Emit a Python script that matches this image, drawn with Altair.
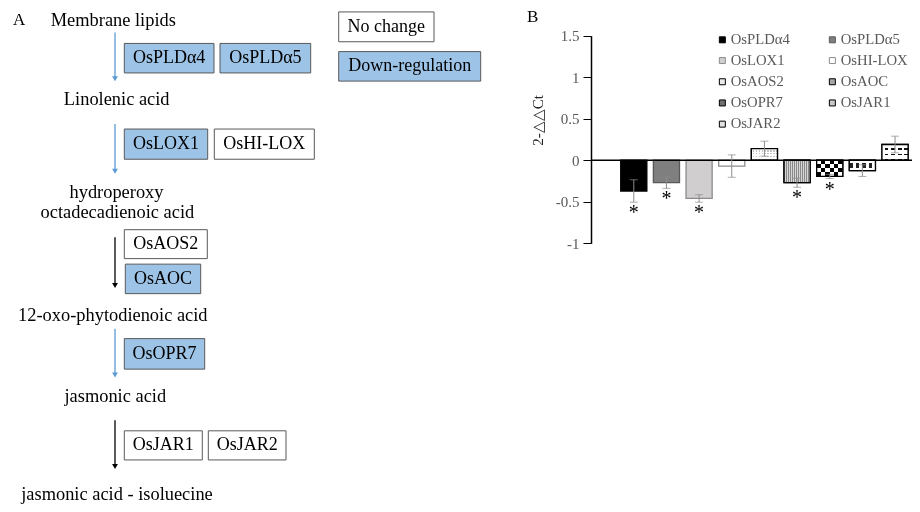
import altair as alt
import pandas as pd

# ---------------- Panel B data ----------------
genes = ["OsPLDα4", "OsPLDα5", "OsLOX1", "OsHI-LOX", "OsAOS2",
         "OsAOC", "OsOPR7", "OsJAR1", "OsJAR2"]
rel_expr = [-0.37, -0.27, -0.46, -0.07, 0.14, -0.27, -0.195, -0.125, 0.19]
rel_err = [0.135, 0.068, 0.045, 0.135, 0.09, 0.055, 0.025, 0.07, 0.10]
significant = [True, True, True, False, False, True, True, False, False]
y_ticks = [-1, -0.5, 0, 0.5, 1, 1.5]

# ---------------- Panel A data ----------------
compounds = ["Membrane lipids", "Linolenic acid", "hydroperoxy",
             "octadecadienoic acid", "12-oxo-phytodienoic acid",
             "jasmonic acid", "jasmonic acid - isoluecine"]
enzymes = genes
enzyme_status = ["Down-regulation", "Down-regulation", "Down-regulation",
                 "No change", "No change", "Down-regulation",
                 "Down-regulation", "No change", "No change"]
key_labels = ["No change", "Down-regulation"]
panel_labels = ["A", "B"]

# ---------------- styles ----------------
FONT = "Liberation Serif"
BLUE_FILL = "#9dc3e6"
ARROW_BLUE = "#5b9bd5"
bar_fills = ["#000000", "#7f7f7f", "#d0cece", "#ffffff", "#e8e8e8",
             "#a6a6a6", "#707070", "#c8c8c8", "#e0e0e0"]
bar_strokes = ["#000000", "#595959", "#8c8c8c", "#8c8c8c", "#000000",
               "#000000", "#000000", "#000000", "#000000"]
ERR_COLOR = "#8c8c8c"
CLEAR = "rgba(255,255,255,0)"


def stripes(c1, c2, n, duty=0.5, vertical=True):
    stops = []
    for i in range(n):
        a, b, c = i / n, (i + duty) / n, (i + 1) / n
        stops += [{"offset": a, "color": c1}, {"offset": b, "color": c1},
                  {"offset": b, "color": c2}, {"offset": c, "color": c2}]
    g = {"gradient": "linear", "stops": stops, "x1": 0, "y1": 0}
    if vertical:
        g.update({"x2": 1, "y2": 0})
    else:
        g.update({"x2": 0, "y2": 1})
    return g


def bands(stops_spec, vertical=False):
    stops = []
    for a, b, col in stops_spec:
        stops += [{"offset": a, "color": col}, {"offset": b, "color": col}]
    g = {"gradient": "linear", "stops": stops, "x1": 0, "y1": 0}
    if vertical:
        g.update({"x2": 1, "y2": 0})
    else:
        g.update({"x2": 0, "y2": 1})
    return g


# ---------------- layout (page pixels of the diagram) ----------------
W, H = 904, 496
K = 0.984


def px(x):
    return x - 8


def py(y):
    return (y - 8) * K


compound_pos = [(113.3, 20), (116.7, 100), (116.5, 195), (117.4, 215),
                (112.8, 320), (115.3, 402), (117, 502)]
enzyme_boxes = [(124.3, 214, 44, 74), (220, 310.7, 44, 74),
                (124.3, 207.7, 131, 161.7), (214.3, 314.3, 131, 161.7),
                (124.3, 207.3, 233.3, 262.7), (125.3, 200.7, 268.3, 298.3),
                (124.3, 204.7, 344, 375),
                (124.3, 202.3, 437.7, 467.3), (208.3, 286, 437.7, 467.3)]
key_boxes = [(338.7, 434, 12, 42.3), (338.7, 480.7, 52.3, 82.3)]
arrow_x = 115
arrow_spans = [(33, 83), (126, 177), (241, 293), (334, 384), (427, 477)]
arrow_colors = [ARROW_BLUE, ARROW_BLUE, "#000000", ARROW_BLUE, "#000000"]
panel_label_pos = [(13, 20), (527, 17)]

# ---------------- tables ----------------
df_comp = pd.DataFrame({
    "label": compounds,
    "x": [px(p[0]) for p in compound_pos],
    "y": [py(p[1]) for p in compound_pos],
})
box_labels = list(enzymes) + key_labels
box_status = list(enzyme_status) + key_labels
boxes = enzyme_boxes + key_boxes
df_box = pd.DataFrame({
    "label": box_labels,
    "status": box_status,
    "x0": [px(b[0]) for b in boxes],
    "x1": [px(b[1]) for b in boxes],
    "y0": [py(b[2]) for b in boxes],
    "y1": [py(b[3]) for b in boxes],
})
df_box["xc"] = (df_box["x0"] + df_box["x1"]) / 2
df_box["yc"] = (df_box["y0"] + df_box["y1"]) / 2

df_arrow = pd.DataFrame({
    "x": [px(arrow_x)] * len(arrow_spans),
    "y0": [py(a[0]) for a in arrow_spans],
    "y1": [py(a[1] - 4) for a in arrow_spans],
    "yh": [py(a[1] - 3) for a in arrow_spans],
    "col": arrow_colors,
})
df_panel = pd.DataFrame({
    "label": panel_labels,
    "x": [px(p[0]) for p in panel_label_pos],
    "y": [py(p[1]) for p in panel_label_pos],
})

sx = alt.Scale(domain=[0, W], range=[0, W], nice=False, zero=False)
sy = alt.Scale(domain=[0, H], range=[0, H], nice=False, zero=False)

comp_text = alt.Chart(df_comp).mark_text(
    font=FONT, fontSize=18.4, color="black", align="center", baseline="middle"
).encode(
    x=alt.X("x:Q", scale=sx, axis=None),
    y=alt.Y("y:Q", scale=sy, axis=None),
    text="label:N",
)
panel_text = alt.Chart(df_panel).mark_text(
    font=FONT, fontSize=17, color="black", align="left", baseline="middle"
).encode(
    x=alt.X("x:Q", scale=sx, axis=None),
    y=alt.Y("y:Q", scale=sy, axis=None),
    text="label:N",
)
box_rect = alt.Chart(df_box).mark_rect(stroke="#595959", strokeWidth=1).encode(
    x=alt.X("x0:Q", scale=sx, axis=None),
    x2="x1:Q",
    y=alt.Y("y0:Q", scale=sy, axis=None),
    y2="y1:Q",
    fill=alt.Fill("status:N",
                  scale=alt.Scale(domain=["Down-regulation", "No change"],
                                  range=[BLUE_FILL, "#ffffff"]),
                  legend=None),
)
box_text = alt.Chart(df_box).mark_text(
    font=FONT, fontSize=18, color="black", align="center", baseline="middle"
).encode(
    x=alt.X("xc:Q", scale=sx, axis=None),
    y=alt.Y("yc:Q", scale=sy, axis=None),
    text="label:N",
)
arrow_shaft = alt.Chart(df_arrow).mark_rule(strokeWidth=1.3).encode(
    x=alt.X("x:Q", scale=sx, axis=None),
    y=alt.Y("y0:Q", scale=sy, axis=None),
    y2="y1:Q",
    color=alt.Color("col:N", scale=None),
)
arrow_head = alt.Chart(df_arrow).mark_point(
    shape="triangle-down", filled=True, size=34, opacity=1
).encode(
    x=alt.X("x:Q", scale=sx, axis=None),
    y=alt.Y("yh:Q", scale=sy, axis=None),
    color=alt.Color("col:N", scale=None),
)
diagram = alt.layer(box_rect, box_text, comp_text, panel_text,
                    arrow_shaft, arrow_head)

# ---------------- bar chart ----------------
df_bar = pd.DataFrame({
    "gene": genes,
    "val": rel_expr,
    "err": rel_err,
    "sig": significant,
})

xb = alt.X("gene:N", sort=genes,
           scale=alt.Scale(range=[px(591), px(918)], paddingInner=0.2,
                           paddingOuter=0.607, align=0.75),
           axis=None)
yscale = alt.Scale(domain=[-1, 1.5], range=[243.3 - 8, 35.7 - 8],
                   nice=False, zero=False)
yaxis = alt.Axis(
    orient="left", offset=-px(591), values=y_ticks,
    labelExpr="'' + datum.value", grid=False,
    domainColor="black", domainWidth=1.5, tickColor="black", tickSize=8,
    tickWidth=1, labelColor="#595959", labelFont=FONT, labelFontSize=15,
    labelPadding=4,
    title="2-△△Ct", titleFont=FONT, titleFontSize=15, titleColor="#262626",
    titleFontWeight="normal", titleAngle=270, titleX=537 - 591,
    titleY=120 - 8, titleAlign="center", titleBaseline="middle",
)


def yb(field):
    return alt.Y(field, type="quantitative", scale=yscale, axis=yaxis)


base = alt.Chart(df_bar).transform_calculate(
    lo="datum.val - datum.err", hi="datum.val + datum.err"
)
bars = base.mark_bar(strokeWidth=1.3).encode(
    x=xb,
    y=yb("val"),
    y2=alt.Y2(datum=0),
    fill=alt.Fill("gene:N", sort=genes,
                  scale=alt.Scale(domain=genes, range=bar_fills),
                  legend=alt.Legend(
                      title=None, orient="none", legendX=707, legendY=24,
                      direction="horizontal",
                      columns=2, columnPadding=35, rowPadding=5.2,
                      symbolType="square", symbolSize=36,
                      symbolStrokeColor="black", symbolStrokeWidth=1,
                      labelFont=FONT, labelFontSize=14.7, labelColor="#595959",
                      labelOffset=1, padding=0)),
    stroke=alt.Stroke("gene:N", sort=genes,
                      scale=alt.Scale(domain=genes, range=bar_strokes),
                      legend=None),
)


def pattern(gene, fill, **kw):
    return base.transform_filter(f"datum.gene == '{gene}'").mark_bar(
        fill=fill, strokeWidth=0, **kw
    ).encode(x=xb, y=yb("val"), y2=alt.Y2(datum=0))


pat_layers = [
    # OsAOS2: light dotted (vertical stripes masked by horizontal rows)
    pattern("OsAOS2", stripes("#ffffff", "#c4c4c4", 9, 0.5, True)),
    pattern("OsAOS2", stripes("#ffffff", CLEAR, 4, 0.5, False)),
    # OsAOC: dense fine dots
    pattern("OsAOC", stripes("#8a8a8a", "#d6d6d6", 13, 0.5, True)),
    # OsOPR7: checkerboard (vertical stripes xor horizontal stripes)
    pattern("OsOPR7", stripes("#000000", "#ffffff", 3, 0.5, True)),
    pattern("OsOPR7", stripes("#ffffff", "#000000", 2, 0.5, False),
            blend="difference"),
    # OsJAR1: row of dark blocks
    pattern("OsJAR1", stripes("#222222", "#ffffff", 4, 0.55, True)),
    pattern("OsJAR1", bands([(0, 0.25, "#ffffff"), (0.25, 0.7, CLEAR),
                             (0.7, 1, "#ffffff")])),
    # OsJAR2: rows of dashes
    pattern("OsJAR2", stripes("#ffffff", "#111111", 4, 0.4, True)),
    pattern("OsJAR2", stripes("#ffffff", CLEAR, 3, 0.75, False)),
]
pat_names = ["OsAOS2", "OsAOC", "OsOPR7", "OsJAR1", "OsJAR2"]
pat_outline = base.transform_filter(
    alt.FieldOneOfPredicate(field="gene", oneOf=pat_names)
).mark_bar(fillOpacity=0, stroke="black", strokeWidth=1.3).encode(
    x=xb, y=yb("val"), y2=alt.Y2(datum=0)
)

zero_line = alt.Chart(pd.DataFrame({"v": [0]})).mark_rule(
    color="black", strokeWidth=1.5
).encode(
    x=alt.value(px(591)), x2=alt.value(W), y=yb("v"),
)
err_rule = base.mark_rule(color=ERR_COLOR, strokeWidth=1).encode(
    x=xb, y=yb("lo"), y2="hi:Q",
)
cap_lo = base.mark_tick(color=ERR_COLOR, size=8, thickness=1,
                        orient="horizontal").encode(x=xb, y=yb("lo"))
cap_hi = base.mark_tick(color=ERR_COLOR, size=8, thickness=1,
                        orient="horizontal").encode(x=xb, y=yb("hi"))
stars = base.transform_filter("datum.sig").mark_text(
    text="*", font=FONT, fontSize=20, color="black", baseline="top", dy=1
).encode(x=xb, y=yb("lo"))

barchart = alt.layer(bars, *pat_layers, pat_outline, zero_line, err_rule,
                     cap_lo, cap_hi, stars)

chart = alt.layer(diagram, barchart).resolve_scale(
    x="independent", y="independent", fill="independent",
    stroke="independent", color="independent"
).properties(
    width=W, height=H, autosize=alt.AutoSizeParams(type="none"), padding=0
).configure_view(stroke=None)

chart.save("out.html", embed_options={"renderer": "svg", "actions": False})
